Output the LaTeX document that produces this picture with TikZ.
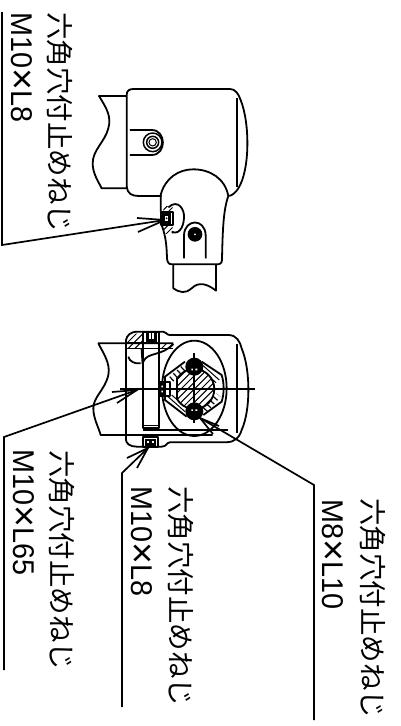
\documentclass[tikz,border=0pt]{standalone}
\usepackage{fontspec}
\setmainfont{Liberation Sans}
\newfontfamily\cjk{Noto Sans CJK JP}
\newcommand{\wide}[1]{\scalebox{.96}[1]{#1}}
\newcommand{\mul}{\raisebox{-.04em}{\scalebox{1.3}{×}}}
\newcommand{\hatchfill}[2]{\foreach \k in {-600,-580,...,900} {\draw[#1] (\k,#2) -- ++(500,-500);}}
\tikzset{
 cjklabel/.style={rotate=-90,anchor=west,inner sep=0pt,font=\cjk\fontsize{27.5}{30}\selectfont},
 latlabel/.style={rotate=-90,anchor=west,inner sep=0pt,font=\fontsize{30}{30}\selectfont},
 leader/.style={line width=1.7pt},
 outl/.style={line width=1.8pt,line join=round},
 thinl/.style={line width=1pt},
}
\begin{document}
\begin{tikzpicture}[x=1pt,y=-1pt]
\useasboundingbox (0,0) rectangle (401,726);
% labels
\node[cjklabel] (t1) at (60,12) {六角穴付止めねじ};
\node[latlabel] (l1) at (21,12) {\wide{M10\mul L8}};
\node[cjklabel] (t2) at (62,450) {六角穴付止めねじ};
\node[latlabel] (l2) at (23,449) {\wide{M10\mul L65}};
\node[cjklabel] (t3) at (181,486) {六角穴付止めねじ};
\node[latlabel] (l3) at (141,486) {\wide{M10\mul L8}};
\node[cjklabel] (t4) at (373,498) {六角穴付止めねじ};
\node[latlabel] (l4) at (332,499) {\wide{M8\mul L10}};
% leaders
\coordinate (a1s) at (2,12); \coordinate (a1k) at (2,245); \coordinate (a1t) at (165,220);
\coordinate (a2s) at (4,670); \coordinate (a2k) at (4,437); \coordinate (a2t) at (137,390);
\coordinate (a3s) at (122,707); \coordinate (a3k) at (122,473); \coordinate (a3t) at (148,448);
\coordinate (a4s) at (314,720); \coordinate (a4k) at (314,485); \coordinate (a4t) at (200,418);
\draw[leader] (a1s)--(a1k)--(a1t);
\draw[leader] (137,218)--(a1t)--(138,232);
\draw[leader] (a2s)--(a2k)--(a2t);
\draw[leader] (112,392)--(a2t)--(117,403);
\draw[leader] (a3s)--(a3k)--(a3t);
\draw[leader] (127,458)--(a3t)--(137,468);
\draw[leader] (a4s)--(a4k)--(a4t);
\draw[leader] (213,434)--(a4t)--(219,426);
% ---- upper view
\begin{scope}[shift={(70,70)},x=.3333pt,y=-.3333pt]
\draw[outl] (170,78)--(87,78) .. controls (110,115) and (125,140) .. (115,175)
  .. controls (105,215) and (68,240) .. (68,280) .. controls (68,310) and (85,335) .. (95,355)--(170,355);
\draw[outl] (170,355)--(170,75) .. controls (170,62) and (178,57) .. (190,57) -- (480,57)
  .. controls (495,57) and (505,70) .. (512,90) .. controls (540,160) and (540,300) .. (505,355)
  .. controls (497,368) and (488,375) .. (478,378);
\draw[outl] (500,85)--(500,352);
\draw[outl] (170,350) .. controls (172,370) and (185,378) .. (205,378) -- (275,378);
\draw[outl] (272,425)--(272,375) .. controls (285,325) and (325,298) .. (370,298) .. controls (420,298) and (465,325) .. (475,378)
  .. controls (460,420) and (458,480) .. (456,570) .. controls (455,580) and (450,583) .. (445,583) -- (305,583)
  .. controls (295,583) and (292,575) .. (291,565) .. controls (290,530) and (288,500) .. (275,465);
\draw[outl] (310,583)--(310,655) .. controls (330,668) and (345,672) .. (365,655) .. controls (385,635) and (410,640) .. (438,662) -- (438,583);
\draw[outl] (180,180)--(245,180) .. controls (290,180) and (290,255) .. (245,255)--(180,255);
\draw[outl,line width=1.5pt] (248,217) circle[radius=28] (248,217) circle[radius=18];
\draw[line width=1pt] (248,217) circle[radius=11];
\draw[outl] (342,565)--(342,495) .. controls (345,445) and (405,445) .. (407,495)--(407,565);
\fill (375,493) circle[radius=22];
\fill[white] (375,493) circle[radius=3];
\draw[outl] (295,412) .. controls (325,385) and (345,420) .. (342,445) .. controls (340,475) and (325,495) .. (305,485);
\begin{scope}
\clip (280,410) rectangle (308,490);
\hatchfill{thinl}{500}
\end{scope}
\draw[outl,fill=white] (273,425) rectangle (310,465);
\draw[line width=3pt] (281,433) rectangle (300,457);
\fill[white] (286,441) rectangle (295,450);
\fill (290,445) circle[radius=3];
\end{scope}
% ---- lower view
\begin{scope}[shift={(90,320)},x=.3333pt,y=-.3333pt]
% shaft
\draw[outl] (250,70)--(25,70) .. controls (40,100) and (62,130) .. (55,165) .. controls (45,210) and (10,230) .. (10,265) .. controls (10,295) and (25,320) .. (32,345)--(368,345);
\draw[outl] (160,330)--(415,330);
\draw[thinl] (112,85)--(250,85);
% body
\draw[outl] (108,360)--(108,60) .. controls (110,45) and (125,35) .. (140,35) -- (220,35) .. controls (230,35) and (228,45) .. (240,45) -- (415,45)
 .. controls (440,45) and (450,65) .. (455,85) .. controls (482,150) and (482,270) .. (455,330) .. controls (448,355) and (430,367) .. (410,367) -- (240,367)
 .. controls (230,367) and (230,380) .. (215,380) -- (140,380) .. controls (120,380) and (108,370) .. (108,360);
\draw[outl] (440,72)--(440,340);
\draw[outl] (313,205) ellipse[x radius=97,y radius=143];
% long screw
\draw[outl] (160,68)--(160,325)--(207,325)--(207,68);
\draw[thinl] (162,318)--(205,318);
\draw[outl] (115,110) .. controls (118,125) and (135,132) .. (152,130);
\fill (152,85) -- (160,85) -- (160,132) -- (155,132) -- cycle;
\draw[outl] (160,125) .. controls (172,95) and (215,110) .. (250,72);
% hatched
\begin{scope}
\clip (112,72) rectangle (155,84) (210,72) rectangle (250,84) (112,62) .. controls (120,45) and (140,38) .. (158,38) -- (158,68) -- (112,68) -- cycle;
\hatchfill{thinl}{400}
\end{scope}
\draw[outl] (112,68)--(158,68);
% set screws
\draw[outl] (160,36) rectangle (207,68);
\draw[line width=3pt] (173,40)--(173,60)--(197,60)--(197,40);
\draw[thinl] (185,40)--(185,60);
\draw[outl] (158,350) rectangle (205,380);
\fill (166,356) rectangle (198,378);
\fill[white] (172,362) rectangle (178,368);
\fill[white] (185,362) rectangle (191,368);
% shaft section
\draw[outl] (285,125)--(225,170)--(225,240)--(290,290);
\draw[outl] (340,285)--(395,245) .. controls (403,220) and (403,190) .. (395,165)--(335,125);
\draw[line width=6pt,dash pattern=on 1.2pt off 3.8pt] (244,178)--(285,140);
\draw[line width=6pt,dash pattern=on 1.2pt off 3.8pt] (345,270)--(385,225);
\draw[thinl] (335,133)--(388,180) (330,145)--(378,188);
\draw[thinl] (232,228)--(285,275) (245,225)--(292,265);
\fill[white] (313,207) circle[radius=60];
\begin{scope}
\clip (260,130) rectangle (385,285);
\begin{scope}
\clip (313,207) circle[radius=60];
\hatchfill{thinl}{500}
\end{scope}
\draw[outl] (313,207) circle[radius=60];
\end{scope}
\draw[outl] (260,175)--(260,239);
% radial screws
\fill (313,140) circle[radius=27];
\fill (313,274) circle[radius=27];
\fill[white] (304,146) rectangle (310,151) (316,146) rectangle (322,151);
\fill[white] (304,268) rectangle (310,273) (316,268) rectangle (322,273);
% side set screw
\draw[outl,fill=white] (207,185) rectangle (240,228);
\fill (209,190) rectangle (228,224);
\fill[white] (214,197) rectangle (219,202) (214,212) rectangle (219,217);
% centre lines
\draw[outl] (90,207)--(495,207);
\draw[outl] (313,100)--(313,310);
\end{scope}
\end{tikzpicture}
\end{document}
